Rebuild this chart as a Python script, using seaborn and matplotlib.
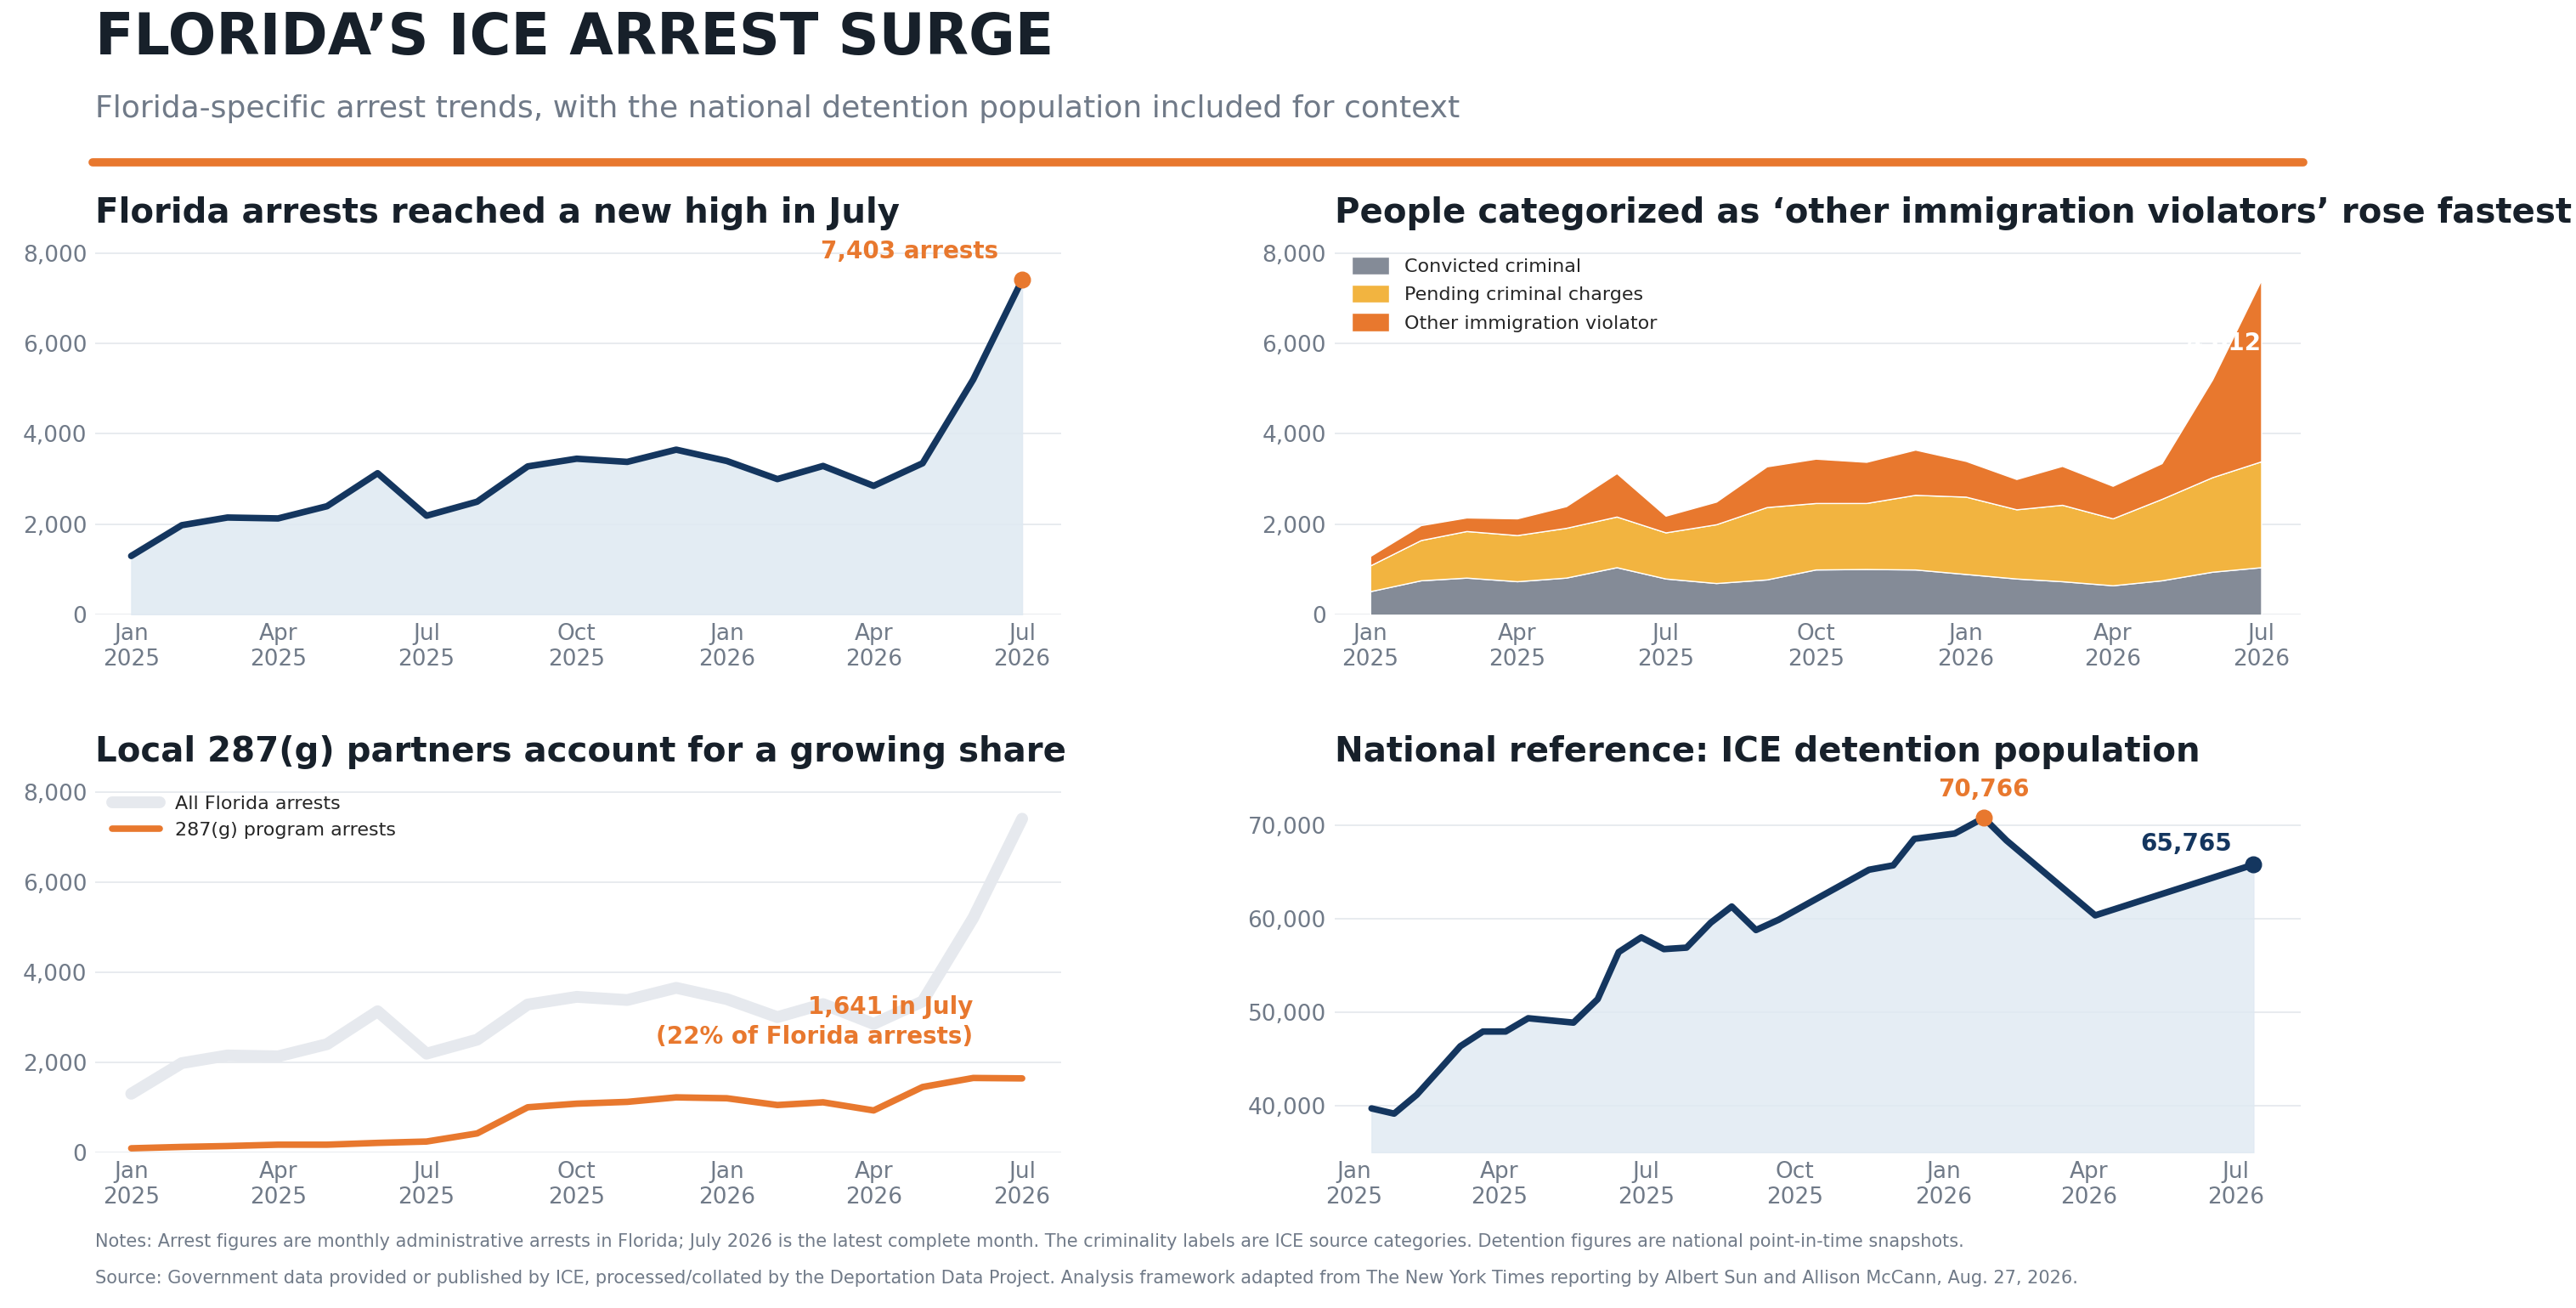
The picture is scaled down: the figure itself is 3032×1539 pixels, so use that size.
import matplotlib
matplotlib.use("Agg")
import matplotlib.pyplot as plt
import matplotlib.dates as mdates
import seaborn as sns
import pandas as pd

# Monthly Florida data, Jan 2025 - Jul 2026
months = pd.date_range("2025-01-01", "2026-07-01", freq="MS")
total_arrests = [1300, 1980, 2150, 2130, 2400, 3130, 2190, 2500, 3280, 3450,
                 3380, 3650, 3400, 3000, 3290, 2850, 3350, 5200, 7403]
convicted = [520, 760, 820, 740, 820, 1050, 800, 700, 780, 1000,
             1010, 1000, 900, 800, 740, 650, 760, 950, 1050]
pending = [570, 890, 1030, 1020, 1100, 1120, 1020, 1300, 1600, 1470,
           1460, 1650, 1710, 1530, 1690, 1480, 1800, 2090, 2341]
program_287g = [90, 120, 140, 170, 170, 210, 240, 420, 1000, 1080,
                1120, 1220, 1200, 1050, 1110, 930, 1450, 1650, 1641]
other = [t - c - p for t, c, p in zip(total_arrests, convicted, pending)]

# National detention snapshots
det_dates = pd.to_datetime([
    "2025-01-12", "2025-01-26", "2025-02-09", "2025-02-23", "2025-03-08",
    "2025-03-22", "2025-04-05", "2025-04-19", "2025-05-17", "2025-06-01",
    "2025-06-14", "2025-06-28", "2025-07-12", "2025-07-26", "2025-08-10",
    "2025-08-23", "2025-09-07", "2025-09-21", "2025-11-16", "2025-12-01",
    "2025-12-14", "2026-01-08", "2026-01-26", "2026-02-09", "2026-04-05",
    "2026-07-12"])
det_values = [39700, 39140, 41160, 43840, 46350, 47920, 47920, 49340, 48870,
              51380, 56410, 57990, 56730, 56890, 59560, 61290, 58770, 59870,
              65220, 65690, 68520, 69090, 70766, 68360, 60340, 65765]

NAVY = "#14365f"
ORANGE = "#e8782e"
GOLD = "#f2b440"
GRAY = "#848b97"
DARK = "#17202a"
MUTED = "#707a88"

sns.set_theme(style="white")
plt.rcParams["font.family"] = ["DejaVu Sans"]

fig = plt.figure(figsize=(30.32, 15.39), dpi=100)
ax1 = fig.add_axes([0.037, 0.530, 0.375, 0.287])
ax2 = fig.add_axes([0.518, 0.530, 0.375, 0.287])
ax3 = fig.add_axes([0.037, 0.119, 0.375, 0.286])
ax4 = fig.add_axes([0.518, 0.119, 0.375, 0.286])

fig.text(0.037, 0.992, "FLORIDA\u2019S ICE ARREST SURGE", fontsize=48, fontweight="bold",
         color=DARK, va="top")
fig.text(0.037, 0.928, "Florida-specific arrest trends, with the national detention population included for context",
         fontsize=26, color=MUTED, va="top")
fig.add_artist(plt.Line2D([0.036, 0.894], [0.876, 0.876], color=ORANGE, lw=7,
                          transform=fig.transFigure))


def style(ax, title):
    ax.set_title(title, loc="left", fontsize=29, fontweight="bold", color=DARK, pad=14)
    for s in ax.spines.values():
        s.set_visible(False)
    ax.grid(axis="y", color="#e4e7ec", lw=1.2)
    ax.set_axisbelow(True)
    ax.xaxis.set_major_locator(mdates.MonthLocator(bymonth=[1, 4, 7, 10]))
    ax.xaxis.set_major_formatter(mdates.DateFormatter("%b\n%Y"))
    ax.tick_params(axis="both", labelsize=19, colors=MUTED, length=0, pad=7)
    ax.yaxis.set_major_formatter(matplotlib.ticker.StrMethodFormatter("{x:,.0f}"))
    ax.set_xlabel("")
    ax.set_ylabel("")


xmin, xmax = pd.Timestamp("2024-12-10"), pd.Timestamp("2026-07-25")

# Panel 1
ax1.fill_between(months, total_arrests, color="#dfe9f2", alpha=0.85)
sns.lineplot(x=months, y=total_arrests, ax=ax1, color=NAVY, lw=5.5)
ax1.scatter(months[-1], total_arrests[-1], s=180, color=ORANGE, zorder=5)
ax1.annotate("7,403 arrests", (months[-1], total_arrests[-1]), xytext=(-20, 18),
             textcoords="offset points", ha="right", fontsize=20, fontweight="bold", color=ORANGE)
ax1.set_ylim(0, 8300)
ax1.set_yticks([0, 2000, 4000, 6000, 8000])
ax1.set_xlim(xmin, xmax)
style(ax1, "Florida arrests reached a new high in July")

# Panel 2
ax2.stackplot(months, convicted, pending, other, colors=[GRAY, GOLD, ORANGE],
              labels=["Convicted criminal", "Pending criminal charges", "Other immigration violator"])
ax2.text(months[-1], 6000, f"{other[-1]:,}", ha="right", va="center", fontsize=20,
         fontweight="bold", color="white")
ax2.set_ylim(0, 8300)
ax2.set_yticks([0, 2000, 4000, 6000, 8000])
ax2.set_xlim(xmin, xmax)
ax2.legend(loc="upper left", frameon=False, fontsize=16, handlelength=2, handleheight=1.1)
style(ax2, "People categorized as \u2018other immigration violators\u2019 rose fastest")

# Panel 3
sns.lineplot(x=months, y=total_arrests, ax=ax3, color="#e6e9ee", lw=10, label="All Florida arrests")
sns.lineplot(x=months, y=program_287g, ax=ax3, color=ORANGE, lw=5.5, label="287(g) program arrests")
ax3.text(pd.Timestamp("2026-06-01"), 2300, "1,641 in July\n(22% of Florida arrests)",
         ha="right", va="bottom", fontsize=20, fontweight="bold", color=ORANGE, linespacing=1.3)
ax3.set_ylim(0, 8300)
ax3.set_yticks([0, 2000, 4000, 6000, 8000])
ax3.set_xlim(xmin, xmax)
ax3.legend(loc="upper left", frameon=False, fontsize=16, handlelength=2.5)
style(ax3, "Local 287(g) partners account for a growing share")

# Panel 4
ax4.fill_between(det_dates, det_values, 35000, color="#dfe9f2", alpha=0.8)
sns.lineplot(x=det_dates, y=det_values, ax=ax4, color=NAVY, lw=5.5)
peak = det_values.index(max(det_values))
ax4.scatter(det_dates[peak], det_values[peak], s=180, color=ORANGE, zorder=5)
ax4.scatter(det_dates[-1], det_values[-1], s=180, color=NAVY, zorder=5)
ax4.annotate(f"{det_values[peak]:,}", (det_dates[peak], det_values[peak]), xytext=(0, 18),
             textcoords="offset points", ha="center", fontsize=20, fontweight="bold", color=ORANGE)
ax4.annotate(f"{det_values[-1]:,}", (det_dates[-1], det_values[-1]), xytext=(-18, 12),
             textcoords="offset points", ha="right", fontsize=20, fontweight="bold", color=NAVY)
ax4.set_ylim(35000, 75000)
ax4.set_yticks([40000, 50000, 60000, 70000])
ax4.set_xlim(pd.Timestamp("2024-12-20"), pd.Timestamp("2026-08-10"))
style(ax4, "National reference: ICE detention population")

fig.text(0.037, 0.047,
         "Notes: Arrest figures are monthly administrative arrests in Florida; July 2026 is the latest complete month. "
         "The criminality labels are ICE source categories. Detention figures are national point-in-time snapshots.",
         fontsize=15, color=MUTED)
fig.text(0.037, 0.019,
         "Source: Government data provided or published by ICE, processed/collated by the Deportation Data Project. "
         "Analysis framework adapted from The New York Times reporting by Albert Sun and Allison McCann, Aug. 27, 2026.",
         fontsize=15, color=MUTED)

fig.savefig("out.png", dpi=100)
